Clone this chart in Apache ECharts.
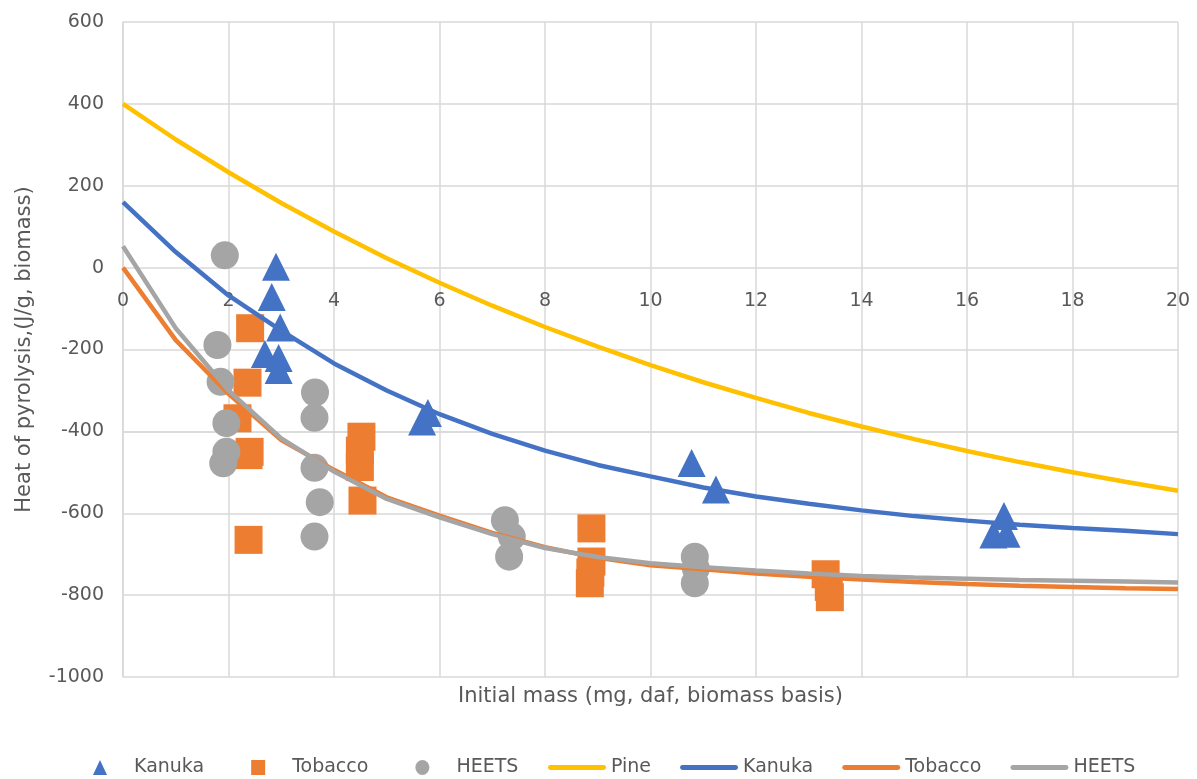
<!DOCTYPE html>
<html>
<head>
<meta charset="utf-8">
<script src="https://cdn.jsdelivr.net/npm/echarts@6/dist/echarts.min.js"></script>
<style>
  html, body { margin: 0; padding: 0; background: #fff; }
  #chart { width: 1197px; height: 779px; }
</style>
</head>
<body>
<div id="chart"></div>
<script>
// Measured points: initial mass (mg) and heat of pyrolysis (J/g)
const kanukaMass = [2.90, 2.82, 2.98, 2.69, 2.95, 2.95, 5.67, 5.78, 10.78, 11.24, 16.50, 16.75, 16.70];
const kanukaHeat = [2, -72, -146, -211, -221, -250, -376, -355, -477, -542, -652, -650, -607];

const tobaccoMass = [2.41, 2.36, 2.17, 2.40, 2.38, 2.38, 4.52, 4.49, 4.49, 4.54, 8.88, 8.88, 8.86, 8.85, 13.32, 13.38, 13.40];
const tobaccoHeat = [-148, -281, -368, -450, -458, -665, -413, -447, -487, -569, -637, -718, -745, -771, -749, -780, -805];

const heetsMass = [1.93, 1.79, 1.85, 1.96, 1.96, 1.90, 3.64, 3.63, 3.63, 3.73, 3.63, 7.24, 7.37, 7.32, 10.84, 10.86, 10.84];
const heetsHeat = [30, -189, -279, -380, -450, -478, -305, -367, -489, -573, -657, -617, -657, -706, -706, -735, -771];

// Curves sampled at whole-milligram steps
const curveMass = [0, 1, 2, 3, 4, 5, 6, 7, 8, 9, 10, 11, 12, 13, 14, 15, 16, 17, 18, 19, 20];
const pineCurve = [400, 313, 233, 158, 88, 23, -37, -93, -145, -193, -238, -280, -318, -355, -388, -419, -448, -475, -500, -523, -545];
const kanukaCurve = [160, 38, -68, -154, -234, -300, -358, -406, -447, -482, -510, -537, -559, -577, -593, -607, -618, -628, -636, -643, -651];
const tobaccoCurve = [0, -177, -308, -421, -494, -561, -606, -648, -683, -709, -727, -737, -747, -755, -762, -768, -773, -777, -780, -783, -785];
const heetsCurve = [52, -148, -300, -417, -498, -565, -610, -651, -685, -707, -722, -732, -740, -747, -753, -757, -760, -763, -765, -767, -769];

// Axis ticks
const xTicks = { min: 0, max: 20, step: 2 };
const yTicks = { min: -1000, max: 600, step: 200 };

const TEXT = '#595959';
const GRID = '#d9d9d9';
const FONT = 'DejaVu Sans';
const LINE_ICON = 'path://M2,0 L56,0 A2.5,2.5 0 0 1 56,5 L2,5 A2.5,2.5 0 0 1 2,0 Z';
const TRI_ICON = 'path://M7,0 L14,15 L0,15 Z';
const SQUARE_ICON = 'path://M0,0 L14,0 L14,15 L0,15 Z';
const DOT_ICON = 'path://M7,0 A7,7.5 0 1 1 7,15 A7,7.5 0 1 1 7,0 Z';

function pairs(xs, ys) { return xs.map((x, i) => [x, ys[i]]); }

const chart = echarts.init(document.getElementById('chart'), null, { renderer: 'canvas' });

const markerSeries = (name, xs, ys, symbol, color) => ({
  name, type: 'scatter',
  symbol, symbolSize: 28,
  itemStyle: { color, opacity: 1 },
  data: pairs(xs, ys)
});
const curveSeries = (name, ys, color) => ({
  name, type: 'line',
  showSymbol: false, symbol: 'none', smooth: false,
  lineStyle: { color, width: 4.5 },
  itemStyle: { color },
  data: pairs(curveMass, ys)
});

const gridBox = { left: 123, right: 19, top: 22, bottom: 102 };
const legendBase = {
  bottom: 2, padding: 0,
  itemWidth: 58, itemHeight: 15,
  symbolKeepAspect: true,
  textStyle: { color: TEXT, fontSize: 19, fontFamily: FONT },
  formatter: n => n.trim()
};

chart.setOption({
  animation: false,
  backgroundColor: '#fff',
  textStyle: { fontFamily: FONT },
  grid: gridBox,
  xAxis: {
    type: 'value', min: xTicks.min, max: xTicks.max, interval: xTicks.step,
    axisLine: { show: true, onZero: true, lineStyle: { color: GRID, width: 1.5 } },
    axisTick: { show: false },
    axisLabel: { color: TEXT, fontSize: 19, fontFamily: FONT, margin: 24 },
    splitLine: { show: true, lineStyle: { color: GRID, width: 1.5 } }
  },
  yAxis: {
    type: 'value', min: yTicks.min, max: yTicks.max, interval: yTicks.step,
    axisLine: { show: true, onZero: false, lineStyle: { color: GRID, width: 1.5 } },
    axisTick: { show: false },
    axisLabel: { color: TEXT, fontSize: 19, fontFamily: FONT, margin: 19, formatter: v => String(v) },
    splitLine: { show: true, lineStyle: { color: GRID, width: 1.5 } },
    name: 'Heat of pyrolysis,(J/g, biomass)', nameLocation: 'middle', nameGap: 88,
    nameTextStyle: { color: TEXT, fontSize: 21, fontFamily: FONT }
  },
  graphic: [{
    type: 'text',
    x: (gridBox.left + 1197 - gridBox.right) / 2,
    y: 697,
    style: {
      text: 'Initial mass (mg, daf, biomass basis)',
      fill: TEXT, fontSize: 21, fontFamily: FONT,
      align: 'center', verticalAlign: 'middle'
    }
  }],
  legend: [
    Object.assign({}, legendBase, {
      left: 93, itemGap: 47,
      data: [
        { name: 'Kanuka', icon: TRI_ICON },
        { name: 'Tobacco', icon: SQUARE_ICON },
        { name: 'HEETS', icon: DOT_ICON }
      ]
    }),
    Object.assign({}, legendBase, {
      left: 548, itemGap: 29,
      data: [
        { name: 'Pine', icon: LINE_ICON },
        { name: 'Kanuka ', icon: LINE_ICON },
        { name: 'Tobacco ', icon: LINE_ICON },
        { name: 'HEETS ', icon: LINE_ICON }
      ]
    })
  ],
  series: [
    markerSeries('Kanuka', kanukaMass, kanukaHeat, 'triangle', '#4472C4'),
    markerSeries('Tobacco', tobaccoMass, tobaccoHeat, 'rect', '#ED7D31'),
    markerSeries('HEETS', heetsMass, heetsHeat, 'circle', '#A5A5A5'),
    curveSeries('Pine', pineCurve, '#FFC000'),
    curveSeries('Kanuka ', kanukaCurve, '#4472C4'),
    curveSeries('Tobacco ', tobaccoCurve, '#ED7D31'),
    curveSeries('HEETS ', heetsCurve, '#A5A5A5')
  ]
});

// Keep the mass axis (line and labels) on the zero heat line
const zeroY = chart.convertToPixel({ yAxisIndex: 0 }, 0);
const floorY = chart.convertToPixel({ yAxisIndex: 0 }, yTicks.min);
chart.setOption({ xAxis: { offset: zeroY - floorY } });
</script>
</body>
</html>
